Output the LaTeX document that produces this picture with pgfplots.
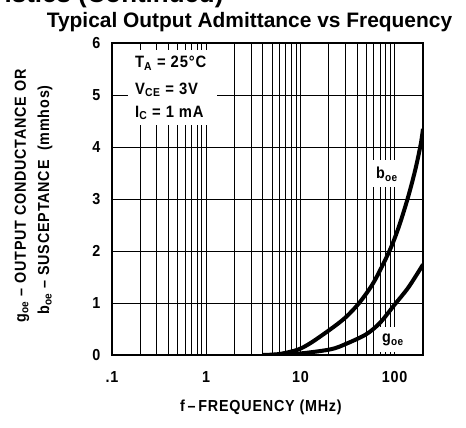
\documentclass[border=0pt]{standalone}
\usepackage{fontspec}
\setmainfont{Liberation Sans}
\newfontfamily\lab{Liberation Sans}[FakeStretch=0.9, LetterSpace=5]
\usepackage{pgfplots}
\pgfplotsset{compat=1.18}
\begin{document}
\begin{tikzpicture}[x=1bp,y=1bp]
\useasboundingbox (-112,-72) rectangle (354,355);
\begin{axis}[at={(0,0)}, anchor=south west, scale only axis,
  width=311bp, height=312bp,
  xmode=log, xmin=0.1, xmax=200, ymin=0, ymax=6,
  log basis x=10,
  xtick={0.1,1,10,100}, xticklabels={.1,1,10,100},
  minor xtick={0.2,0.3,0.4,0.5,0.6,0.7,0.8,0.9,2,3,4,5,6,7,8,9,20,30,40,50,60,70,80,90},
  ytick={0,1,2,3,4,5,6}, yticklabels={0,1,2,3,4,5,6},
  grid=both,
  major grid style={black, line width=1bp},
  minor grid style={black, line width=1bp},
  axis line style={line width=1.8bp},
  tick style={draw=none},
  ticklabel style={font=\lab\bfseries\fontsize{16}{16}\selectfont},
  xticklabel style={yshift=-13bp},
  yticklabel style={xshift=-8bp},
]
\addplot[black, line width=4bp, smooth] coordinates {
(4,0) (6,0.02) (9.3,0.1) (12.8,0.23) (21,0.5) (30,0.72) (42,1.0) (60,1.4) (88,2.0) (110,2.45) (137,3.0) (165,3.55) (189,4.05) (200,4.35)};
\addplot[black, line width=4bp, smooth] coordinates {
(5,0) (10,0.03) (21,0.11) (31,0.22) (50,0.4) (70,0.62) (100,0.97) (140,1.3) (200,1.74)};
\end{axis}
% white boxes covering grid
\fill[white] (16,230) rectangle (105,305);
\fill[white] (261,168) rectangle (290,195);
\fill[white] (268,3) rectangle (296,28);
\begin{scope}[font=\lab\bfseries\fontsize{16.5}{16.5}\selectfont]
\node[anchor=west, inner sep=0] at (23,292) {T\textsubscript{A} = 25°C};
\node[anchor=west, inner sep=0] at (23,265) {V\textsubscript{CE} = 3V};
\node[anchor=west, inner sep=0] at (23,242) {I\textsubscript{C} = 1 mA};
\end{scope}
\node[font=\lab\bfseries\fontsize{16}{16}\selectfont, inner sep=0] at (275,181) {b\textsubscript{oe}};
\node[font=\lab\bfseries\fontsize{16}{16}\selectfont, inner sep=0] at (281,15) {g\textsubscript{oe}};
\node[font=\lab\bfseries\fontsize{16}{16}\selectfont] at (149,-52) {f\,\textendash\,FREQUENCY (MHz)};
\node[font=\lab\bfseries\fontsize{16}{16}\selectfont, rotate=90] at (-90,159) {g\textsubscript{oe} \textendash\ OUTPUT CONDUCTANCE OR};
\node[font=\lab\bfseries\fontsize{16}{16}\selectfont, rotate=90] at (-67,155) {b\textsubscript{oe} \textendash\ SUSCEPTANCE\ \ (mmhos)};
\node[font=\bfseries\fontsize{21}{21}\selectfont, anchor=base] at (137.5,328) {Typical Output Admittance vs Frequency};
\node[font=\bfseries\fontsize{26}{26}\selectfont, anchor=base east] at (115,353) {Characteristics (Continued)};
\end{tikzpicture}
\end{document}
